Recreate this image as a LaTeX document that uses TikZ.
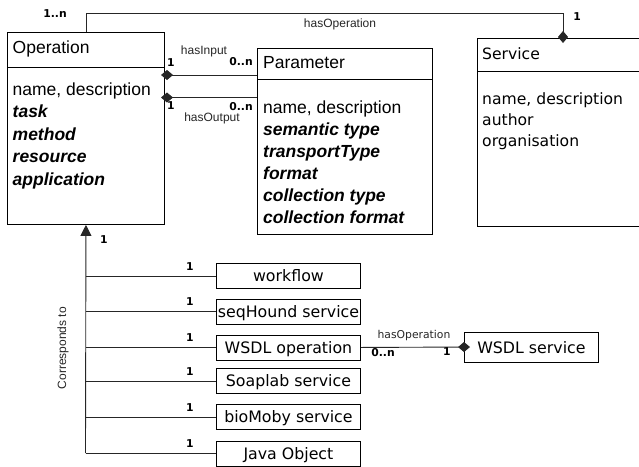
\documentclass[tikz,border=0pt]{standalone}
\usepackage{fontspec}
\setmainfont{Liberation Sans}
\newfontfamily\tahfont{DejaVu Sans}
\usetikzlibrary{arrows.meta,calc}
\begin{document}
\begin{tikzpicture}[x=1pt,y=-1pt,
  box/.style={draw=black, line width=0.9pt, inner sep=0pt, anchor=north west},
  divline/.style={draw=black, line width=0.9pt},
  attr/.style={inner sep=0pt, anchor=base west, font=\fontsize{17.5}{20}\selectfont},
  battr/.style={inner sep=0pt, anchor=base west, font=\fontsize{17.5}{20}\selectfont\bfseries\itshape},
  sattr/.style={inner sep=0pt, anchor=base west, font=\tahfont\fontsize{15.6}{18}\selectfont},
  impl/.style={box, minimum width=144pt, minimum height=25pt},
  impltext/.style={inner sep=0pt, anchor=base, font=\tahfont\fontsize{15.8}{18}\selectfont},
  rel/.style={inner sep=0pt, anchor=base, font=\fontsize{12}{14}\selectfont, text=black!85},
  trel/.style={inner sep=0pt, anchor=base, font=\tahfont\fontsize{10.8}{13}\selectfont, text=black!85},
  mult/.style={inner sep=0pt, font=\tahfont\bfseries\fontsize{10.8}{12}\selectfont},
  conn/.style={line width=0.9pt, draw=black!85},
  dia/.style={{Diamond[length=12pt,width=10pt]}-},
  diaend/.style={-{Diamond[length=12pt,width=10pt]}},
  tri/.style={-{Triangle[length=11pt,width=11pt]}}
]
\useasboundingbox (0,0) rectangle (639,466);
\clip (0,0) rectangle (639,466);

% ---------- Operation ----------
\node[box, minimum width=157pt, minimum height=192pt] (op) at (7,32) {};
\draw[divline] (7,67) -- (164,67);
\node[attr]  (opT)  at (12.5,53.5) {Operation};
\node[attr]  (opA1) at (12.5,95)   {name, description};
\node[battr] (opA2) at (12.5,117.5) {task};
\node[battr] (opA3) at (12.5,140)   {method};
\node[battr] (opA4) at (12.5,162.5) {resource};
\node[battr] (opA5) at (12.5,185)   {application};

% ---------- Parameter ----------
\node[box, minimum width=175pt, minimum height=186.5pt] (par) at (257,47.5) {};
\draw[divline] (257,79) -- (432,79);
\node[attr]  (parT)  at (263,68.5) {Parameter};
\node[attr]  (parA1) at (263,113.5) {name, description};
\node[battr] (parA2) at (263,135.5) {semantic type};
\node[battr] (parA3) at (263,157.5) {transportType};
\node[battr] (parA4) at (263,179.5) {format};
\node[battr] (parA5) at (263,201.5) {collection type};
\node[battr] (parA6) at (263,223.5) {collection format};

% ---------- Service ----------
\node[box, minimum width=180pt, minimum height=188.5pt] (svc) at (477,37.5) {};
\draw[divline] (477,71) -- (657,71);
\node[sattr] (svcT)  at (482,59)  {Service};
\node[sattr] (svcA1) at (482,104) {name, description};
\node[sattr] (svcA2) at (482,125.5) {author};
\node[sattr] (svcA3) at (482,146.5) {organisation};

% ---------- implementations ----------
\node[impl] (wf)  at (216,263)   {};
\node[impl] (sh)  at (216,298.5) {};
\node[impl] (wop) at (216,334.5) {};
\node[impl] (sl)  at (216,368)   {};
\node[impl] (bm)  at (216,404)   {};
\node[impl] (jo)  at (216,440.5) {};
\node[impltext] (wfT)  at ($(wf.center)+(0,5.8)$)  {workflow};
\node[impltext] (shT)  at ($(sh.center)+(0,5.8)$)  {seqHound service};
\node[impltext] (wopT) at ($(wop.center)+(0,5.8)$) {WSDL operation};
\node[impltext] (slT)  at ($(sl.center)+(0,5.8)$)  {Soaplab service};
\node[impltext] (bmT)  at ($(bm.center)+(0,5.8)$)  {bioMoby service};
\node[impltext] (joT)  at ($(jo.center)+(0,5.8)$)  {Java Object};

\node[box, minimum width=134pt, minimum height=30pt] (ws) at (464,332) {};
\node[impltext] (wsT) at ($(ws.center)+(0,5.8)$) {WSDL service};

% ---------- connectors ----------
% Operation -- Service (hasOperation)
\coordinate (sD) at (563,43);
\draw[conn, diaend] (op.north) |- (sD |- 0,13) -- (sD);
\node[mult] (m1n) at (55,14) {1..n};
\node[mult] (m1s) at (577,17) {1};
\node[rel]  (hasOp) at (340,27) {hasOperation};

% hasInput / hasOutput
\coordinate (inD) at (161,75);
\coordinate (outD) at (161,97.5);
\draw[conn, dia] (inD) -- (inD -| par.west);
\draw[conn, dia] (outD) -- (outD -| par.west);
\node[rel]  (hasIn) at (204,54) {hasInput};
\node[mult] (mi1) at (171,63) {1};
\node[mult] (mi2) at (241,62) {0..n};
\node[mult] (mo1) at (171,106) {1};
\node[mult] (mo2) at (241,106.5) {0..n};
\node[rel]  (hasOut) at (212,121) {hasOutput};

% Corresponds to
\coordinate (trunk) at (85.5,453);
\draw[conn, tri] (trunk) -- (op.south);
\node[mult] (mt) at (104,240) {1};
\foreach \b in {wf,sh,wop,sl,bm,jo}{
  \draw[conn] (\b.west) -- (\b.west -| trunk);
  \node[mult] (m\b) at ($(\b.west -| 190,0)+(0,-9.5)$) {1};
}
\node[rel, anchor=center, rotate=90] (corr) at (63,348) {Corresponds to};

% WSDL operation -- WSDL service
\coordinate (wD) at (470,347);
\draw[conn, diaend] (wop.east) -- (wD);
\node[trel] (hasOp2) at (414,338) {hasOperation};
\node[mult] (mw1) at (383,352.5) {0..n};
\node[mult] (mw2) at (447,352) {1};
\end{tikzpicture}
\end{document}
